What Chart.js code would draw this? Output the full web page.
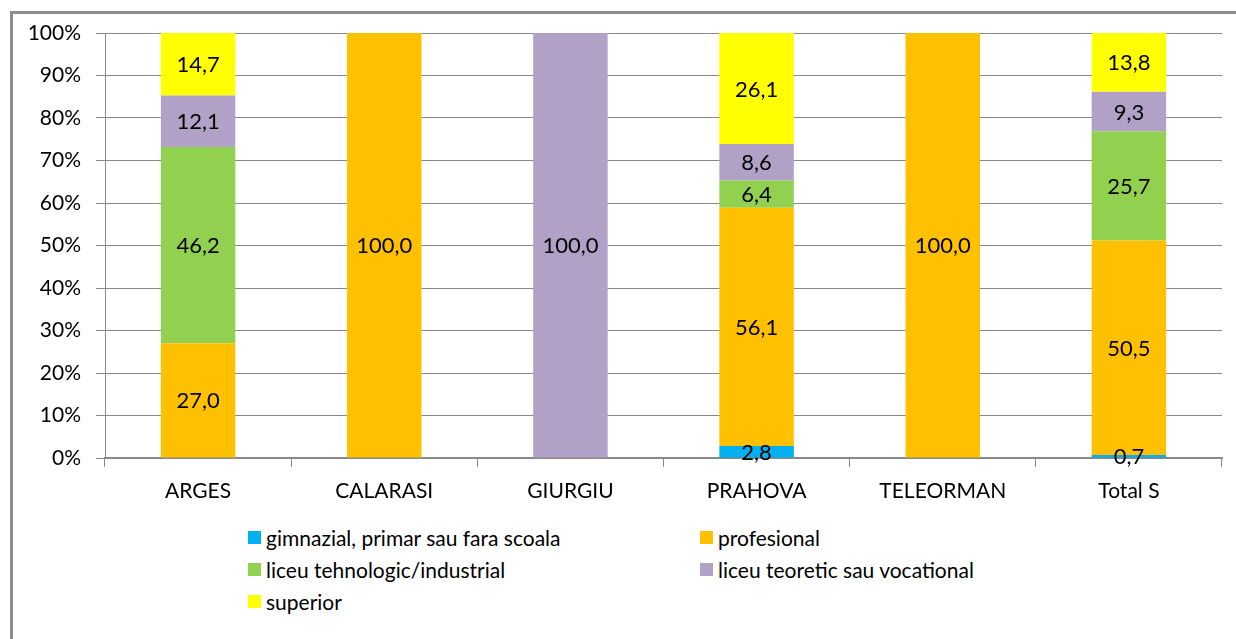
<!DOCTYPE html>
<html>
<head>
<meta charset="utf-8">
<script src="https://cdn.jsdelivr.net/npm/chart.js@4"></script>
<style>
  body { margin: 0; background: #fff; width: 1236px; height: 639px; overflow: hidden; position: relative; }
  #frame { position: absolute; left: 10px; top: 11px; width: 1300px; height: 700px;
           border-left: 3px solid #8c8c8c; border-top: 3px solid #8c8c8c; }
  #wrap { position: absolute; left: 0; top: 0; width: 1236px; height: 510px; }
  #legend { position: absolute; left: 248px; top: 525px; display: grid;
            grid-template-columns: 452px 320px; row-gap: 8px;
            font-family: Lato, sans-serif; font-size: 21px; color: #000; }
  .item { display: flex; align-items: center; height: 24px; }
  .sw { width: 13px; height: 13px; margin-right: 5px; }
</style>
</head>
<body>
<div id="frame"></div>
<div id="wrap"><canvas id="chartCanvas"></canvas></div>
<div id="legend"></div>
<script>
// kategorier og serier (procent)
var categories = ['ARGES', 'CALARASI', 'GIURGIU', 'PRAHOVA', 'TELEORMAN', 'Total S']
var seriesNames = ['gimnazial, primar sau fara scoala', 'profesional', 'liceu tehnologic/industrial',
                   'liceu teoretic sau vocational', 'superior']
var gimnazial   = [0, 0, 0, 2.8, 0, 0.7]
var profesional = [27.0, 100.0, 0, 56.1, 100.0, 50.5]
var tehnologic  = [46.2, 0, 0, 6.4, 0, 25.7]
var teoretic    = [12.1, 0, 100.0, 8.6, 0, 9.3]
var superior    = [14.7, 0, 0, 26.1, 0, 13.8]
var yTicks = [0, 10, 20, 30, 40, 50, 60, 70, 80, 90, 100]

var seriesValues = [gimnazial, profesional, tehnologic, teoretic, superior]
var colorList = ['#00B0F0', '#FFC000', '#92D050', '#B2A1C7', '#FFFF00']

var datasets = seriesValues.map((vals, i) => {
    return {
        label: seriesNames[i],
        data: vals,
        backgroundColor: colorList[i],
        borderWidth: 0,
        categoryPercentage: 1,
        barPercentage: 0.4
    }
})

// tegner tallene midt i hver del af søjlen
var valueLabels = {
    id: 'valueLabels',
    afterDatasetsDraw(chart) {
        var ctx = chart.ctx
        ctx.save()
        ctx.font = '22px Lato, sans-serif'
        ctx.fillStyle = '#000'
        ctx.textAlign = 'center'
        ctx.textBaseline = 'middle'
        chart.data.datasets.forEach((ds, i) => {
            var meta = chart.getDatasetMeta(i)
            meta.data.forEach((bar, j) => {
                var v = ds.data[j]
                if (!v) return
                var y = (bar.y + bar.base) / 2
                ctx.fillText(v.toFixed(1).replace('.', ','), bar.x, y + 1)
            })
        })
        ctx.restore()
    }
}

var gridCol = '#898989'
const ctx = document.getElementById('chartCanvas')
var myChart = new Chart(ctx, {
    type: 'bar',
    data: { labels: categories, datasets: datasets },
    options: {
        responsive: true,
        maintainAspectRatio: false,
        animation: false,
        layout: { padding: { top: 33, right: 14, left: 0, bottom: 0 } },
        plugins: { legend: { display: false }, tooltip: { enabled: false } },
        scales: {
            x: {
                stacked: true,
                grid: { offset: true, drawOnChartArea: false, drawTicks: true, tickLength: 9, color: gridCol },
                border: { color: gridCol, width: 2 },
                ticks: { font: { family: 'Lato', size: 21 }, color: '#000', padding: 12 },
                afterFit(scale) { scale.height = 52 }
            },
            y: {
                stacked: true,
                min: 0, max: 100,
                afterBuildTicks(scale) { scale.ticks = yTicks.map(v => ({ value: v })) },
                grid: { color: gridCol, tickLength: 9, lineWidth: 1 },
                border: { color: gridCol, width: 1 },
                ticks: { font: { family: 'Lato', size: 21 }, color: '#000', padding: 15,
                         callback: v => v + '%' },
                afterFit(scale) { scale.width = 105 }
            }
        }
    },
    plugins: [valueLabels]
})

// legenden bygges fra datasets
var legend = document.getElementById('legend')
datasets.forEach(ds => {
    var item = document.createElement('div')
    item.className = 'item'
    item.innerHTML = '<span class="sw" style="background:' + ds.backgroundColor + '"></span>' + ds.label
    legend.appendChild(item)
})
</script>
</body>
</html>
